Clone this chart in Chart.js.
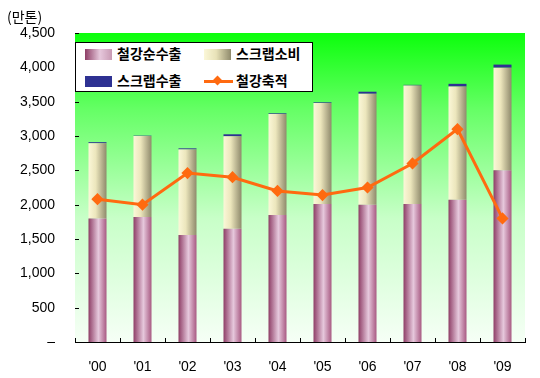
<!DOCTYPE html>
<html>
<head>
<meta charset="utf-8">
<script src="https://cdn.jsdelivr.net/npm/chart.js@4"></script>
<style>
 body { margin: 0; background: #fff; }
 #wrap { position: relative; width: 540px; height: 378px; }
 #legend {
  position: absolute; left: 75px; top: 42px; width: 236px; height: 48px;
  border: 1px solid #000; background: #fff;
  font-family: "Noto Sans CJK KR", sans-serif; font-weight: bold; font-size: 14px;
 }
 .item { position: absolute; height: 20px; line-height: 20px; white-space: nowrap; }
 .sw { position: absolute; left: 0; top: 5px; width: 27px; height: 11px; }
 .lbl { position: absolute; left: 32px; top: -1px; }
</style>
</head>
<body>
<div id="wrap">
 <canvas id="chart" width="540" height="378"></canvas>
 <div id="legend">
  <div class="item" style="left:9px;top:1px"><div class="sw" style="background:linear-gradient(90deg,#8e3e66,#e6c8dc 55%,#c89ab4)"></div><span class="lbl">철강순수출</span></div>
  <div class="item" style="left:128px;top:1px"><div class="sw" style="background:linear-gradient(90deg,#fbf7d8,#e8e2b8 45%,#8f8a6c)"></div><span class="lbl">스크랩소비</span></div>
  <div class="item" style="left:9px;top:28px"><div class="sw" style="background:#2e3192"></div><span class="lbl">스크랩수출</span></div>
  <div class="item" style="left:128px;top:28px">
   <div style="position:absolute;left:0;top:9px;width:29px;height:3px;background:#ff6a10"></div>
   <div style="position:absolute;left:10px;top:6px;width:7px;height:7px;background:#ff6a10;transform:rotate(45deg)"></div>
   <span class="lbl">철강축적</span></div>
 </div>
</div>
<script>
var years = ["'00", "'01", "'02", "'03", "'04", "'05", "'06", "'07", "'08", "'09"];
var netExport = [1800, 1820, 1560, 1650, 1850, 2010, 2000, 2010, 2070, 2500];
var scrapUse = [1095, 1180, 1245, 1345, 1470, 1470, 1615, 1725, 1650, 1495];
var scrapExport = [15, 5, 15, 30, 10, 10, 30, 10, 40, 45];
var accumulation = [2080, 2000, 2460, 2400, 2200, 2140, 2250, 2600, 3100, 1800];
var yTicks = [0, 500, 1000, 1500, 2000, 2500, 3000, 3500, 4000, 4500];

var BAR_W = 18;

function barGradient(stops) {
 return function (c) {
  var chart = c.chart;
  var xs = chart.scales.x;
  var x = xs ? xs.getPixelForValue(c.dataIndex) : NaN;
  if (!isFinite(x)) return stops[1][1];
  var g = chart.ctx.createLinearGradient(x - BAR_W / 2, 0, x + BAR_W / 2, 0);
  stops.forEach(function (s) { g.addColorStop(s[0], s[1]); });
  return g;
 };
}

var bgPlugin = {
 id: "bgPlugin",
 beforeDatasetsDraw: function (chart) {
  var a = chart.chartArea, ctx = chart.ctx;
  var g = ctx.createLinearGradient(0, a.top, 0, a.bottom);
  g.addColorStop(0, "#0cff0c");
  g.addColorStop(0.25, "#66ff66");
  g.addColorStop(0.6, "#c8ffc8");
  g.addColorStop(1, "#f6fff6");
  ctx.save();
  ctx.fillStyle = g;
  ctx.fillRect(a.left, a.top, a.right - a.left, a.bottom - a.top);
  ctx.restore();
 },
 afterDraw: function (chart) {
  var ctx = chart.ctx, a = chart.chartArea;
  var ys = chart.scales.y;
  ctx.save();
  ctx.strokeStyle = "#000";
  ctx.lineWidth = 1;
  ctx.beginPath();
  yTicks.forEach(function (v) {
   var y = Math.round(ys.getPixelForValue(v)) + 0.5;
   ctx.moveTo(a.left, y); ctx.lineTo(a.left + 4, y);
  });
  for (var i = 0; i <= years.length; i++) {
   var x = Math.round(a.left + (a.right - a.left) * i / years.length) + 0.5;
   ctx.moveTo(x, a.bottom); ctx.lineTo(x, a.bottom - 4);
  }
  ctx.stroke();
  ctx.fillStyle = "#000";
  ctx.font = "14px 'Noto Sans CJK KR'";
  ctx.textBaseline = "middle";
  ctx.fillText("(만톤)", 7, 17);
  ctx.restore();
 }
};

new Chart(document.getElementById("chart"), {
 type: "bar",
 data: {
  labels: years,
  datasets: [
   {
    type: "line",
    label: "철강축적",
    data: accumulation,
    borderColor: "#ff6a10",
    backgroundColor: "#ff6a10",
    borderWidth: 3,
    pointStyle: "rectRot",
    pointRadius: 4,
    order: 0,
   },
   {
    label: "철강순수출",
    data: netExport,
    backgroundColor: barGradient([[0, "#8e3e66"], [0.55, "#e6c8dc"], [1, "#a85a82"]]),
    order: 1,
   },
   {
    label: "스크랩소비",
    data: scrapUse,
    backgroundColor: barGradient([[0, "#fbf7d8"], [0.4, "#ece6bc"], [1, "#8f8a6c"]]),
    order: 1,
   },
   {
    label: "스크랩수출",
    data: scrapExport,
    backgroundColor: "#2e3192",
    order: 1,
   },
  ],
 },
 options: {
  responsive: false,
  animation: false,
  layout: { padding: { left: 0, right: 15, top: 33, bottom: 0 } },
  datasets: { bar: { barPercentage: 0.4, categoryPercentage: 1.0 } },
  plugins: { legend: { display: false }, tooltip: { enabled: false } },
  scales: {
   x: {
    stacked: true,
    grid: { display: false },
    border: { color: "#000", width: 1 },
    ticks: { color: "#000", font: { family: "Liberation Sans", size: 14 }, padding: 9 },
    afterFit: function (s) { s.height = 36; },
   },
   y: {
    stacked: true,
    min: 0,
    max: 4500,
    afterBuildTicks: function (s) { s.ticks = yTicks.map(function (v) { return { value: v }; }); },
    grid: { display: false },
    border: { color: "#000", width: 1 },
    ticks: {
     color: "#000",
     font: { family: "Liberation Sans", size: 14 },
     padding: 12,
     callback: function (v) { return v === 0 ? "–" : v.toLocaleString("en-US"); },
    },
    afterFit: function (s) { s.width = 75; },
   },
  },
 },
 plugins: [bgPlugin],
});
</script>
</body>
</html>
